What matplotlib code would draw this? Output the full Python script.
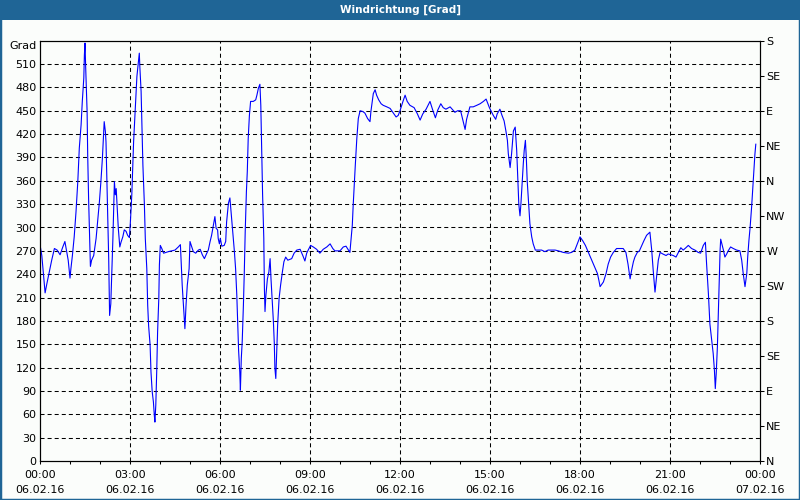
import matplotlib
matplotlib.use('Agg')
import matplotlib.pyplot as plt
from matplotlib.patches import Rectangle

# wind direction readings, 06.02.16 00:00 .. 24:00 (hours since midnight)
hours = [
    0.00, 0.06, 0.10, 0.17, 0.23, 0.31, 0.39, 0.48, 0.57, 0.67, 0.76, 0.83, 0.89, 0.94,
    1.00, 1.03, 1.08, 1.14, 1.20, 1.26, 1.31, 1.37, 1.41, 1.46, 1.48, 1.50, 1.52, 1.57,
    1.59, 1.62, 1.66, 1.68, 1.72, 1.79, 1.87, 1.92, 1.98, 2.03, 2.08, 2.12, 2.14, 2.18,
    2.20, 2.23, 2.26, 2.29, 2.32, 2.36, 2.39, 2.43, 2.48, 2.51, 2.54, 2.58, 2.61, 2.66,
    2.70, 2.76, 2.81, 2.87, 2.92, 2.98, 3.01, 3.06, 3.09, 3.12, 3.17, 3.20, 3.23, 3.28,
    3.31, 3.33, 3.37, 3.40, 3.43, 3.48, 3.51, 3.56, 3.59, 3.62, 3.67, 3.70, 3.74, 3.78,
    3.81, 3.83, 3.86, 3.89, 3.92, 3.96, 3.98, 4.01, 4.06, 4.12,
    4.28, 4.39, 4.50, 4.61, 4.68, 4.70, 4.74, 4.78, 4.83, 4.87, 4.91, 4.97, 5.00, 5.06,
    5.11, 5.19, 5.28, 5.34, 5.41, 5.48, 5.56, 5.61, 5.67, 5.72, 5.78, 5.83, 5.87, 5.92,
    5.94, 5.98, 6.01, 6.06, 6.14, 6.19, 6.22, 6.28, 6.33, 6.37, 6.42, 6.48, 6.52, 6.56,
    6.59, 6.62, 6.66, 6.68, 6.71, 6.74, 6.78, 6.81, 6.84, 6.88, 6.91, 6.94, 6.98, 7.02,
    7.11, 7.19, 7.23, 7.28, 7.33, 7.36, 7.39, 7.42, 7.46, 7.48, 7.50, 7.53, 7.58, 7.63,
    7.67, 7.70, 7.73, 7.78, 7.81, 7.83, 7.86, 7.89, 7.92, 7.97, 8.02, 8.08, 8.13, 8.19,
    8.26,
    8.39, 8.47, 8.56, 8.67, 8.76, 8.83, 8.89, 8.94, 9.02, 9.11, 9.22, 9.33, 9.44, 9.56,
    9.67, 9.76, 9.83, 10.00, 10.11, 10.20, 10.28, 10.33, 10.37, 10.41, 10.44, 10.48,
    10.51, 10.56, 10.61, 10.67, 10.76, 10.83, 10.92, 11.00, 11.03, 11.08, 11.11, 11.17,
    11.22, 11.29, 11.37, 11.44, 11.56, 11.67, 11.78, 11.87, 11.94,
    12.00, 12.09, 12.17, 12.24, 12.33, 12.47, 12.58, 12.67, 12.76, 12.87, 13.00, 13.09,
    13.18, 13.26, 13.36, 13.44, 13.53, 13.67, 13.74, 13.83, 13.92, 14.02, 14.09, 14.17,
    14.22, 14.33, 14.44, 14.56, 14.67, 14.78, 14.87, 14.91, 14.98, 15.06, 15.11, 15.19,
    15.24, 15.33, 15.40, 15.47, 15.53, 15.58, 15.61, 15.67, 15.72, 15.78, 15.84, 15.89,
    15.92, 15.96, 16.00, 16.03, 16.07, 16.11, 16.14, 16.18, 16.21, 16.24, 16.29, 16.33,
    16.39, 16.44, 16.51, 16.61, 16.72, 16.83, 16.94, 17.06, 17.17, 17.28, 17.44, 17.61,
    17.72, 17.83, 17.91, 18.00, 18.09, 18.18, 18.28, 18.39, 18.50, 18.58, 18.63,
    18.67, 18.78, 18.87, 18.94, 19.02, 19.11, 19.22, 19.33, 19.44, 19.53, 19.60, 19.67,
    19.72, 19.78, 19.83, 19.91, 19.98, 20.06, 20.13, 20.22, 20.33, 20.39, 20.44, 20.50,
    20.56, 20.61, 20.67, 20.76, 20.87, 20.94, 21.02, 21.11, 21.20, 21.28, 21.36, 21.44,
    21.53, 21.61, 21.72, 21.83, 21.94, 22.02, 22.11, 22.18, 22.22, 22.28, 22.33, 22.39,
    22.44, 22.48, 22.51, 22.54, 22.58, 22.61, 22.64, 22.67, 22.69, 22.73, 22.78, 22.83,
    22.89, 22.94, 23.02, 23.11, 23.22, 23.33, 23.39, 23.44, 23.50, 23.56, 23.59, 23.63,
    23.67, 23.72, 23.76, 23.80, 23.83, 23.86,
]
grad = [
    278, 264, 247, 216, 228, 243, 258, 273, 271, 265, 275, 282, 269, 258,
    235, 247, 264, 288, 320, 359, 402, 432, 462, 492, 522, 537, 509, 449,
    393, 337, 279, 250, 258, 264, 286, 307, 333, 359, 389, 419, 436, 423,
    410, 359, 312, 260, 187, 202, 239, 286, 359, 342, 350, 320, 299, 275,
    281, 288, 297, 295, 290, 287, 305, 342, 376, 410, 447, 470, 494, 513,
    524, 505, 475, 427, 380, 329, 286, 247, 200, 174, 149, 114, 89, 76,
    59, 50, 72, 114, 166, 209, 252, 277, 273, 267,
    269, 270, 271, 275, 278, 260, 226, 202, 170, 202, 226, 247, 282, 275,
    269, 267, 271, 272, 265, 260, 267, 271, 282, 290, 303, 314, 299, 297,
    286, 279, 286, 276, 277, 282, 307, 331, 338, 320, 299, 269, 247, 213,
    177, 142, 114, 91, 132, 153, 200, 243, 294, 346, 372, 414, 444, 462,
    462, 464, 470, 479, 484, 457, 397, 342, 286, 222, 192, 213, 234, 243,
    260, 234, 213, 179, 151, 119, 106, 140, 174, 209, 226, 243, 256, 262,
    258,
    260, 267, 271, 272, 264, 257, 267, 271, 277, 275, 272, 267, 272, 275,
    279, 273, 270, 270, 275, 276, 271, 268, 286, 303, 329, 359,
    380, 414, 440, 450, 449, 447, 440, 436, 449, 464, 472, 477,
    470, 464, 459, 457, 455, 453, 447, 442, 444,
    450, 461, 470, 462, 457, 454, 446, 438, 446, 452, 462, 451,
    441, 451, 459, 454, 452, 455, 452, 448, 450, 450, 439, 426,
    439, 455, 455, 457, 459, 462, 465, 461, 454, 448, 444, 439,
    446, 452, 444, 437, 424, 412, 395, 377, 395, 424, 429, 399,
    369, 330, 315, 330, 356, 382, 399, 412, 390, 360, 330, 305,
    288, 279, 271, 271, 271, 269, 271, 271, 271, 270, 268, 267,
    268, 271, 279, 288, 283, 277, 268, 258, 248, 241, 232,
    224, 230, 241, 253, 262, 268, 273, 273, 273, 268, 253, 234,
    245, 256, 262, 268, 270, 277, 283, 290, 294, 271, 245, 217,
    239, 258, 268, 266, 264, 266, 265, 264, 262, 268, 274, 271,
    274, 277, 273, 271, 268, 267, 277, 281, 253, 215, 176, 155,
    138, 117, 93, 112, 147, 189, 236, 271, 285, 279, 271, 262,
    266, 270, 275, 273, 271, 270, 258, 241, 224, 241, 262, 283,
    300, 326, 350, 373, 394, 407,
]

left_ticks = [0, 30, 60, 90, 120, 150, 180, 210, 240, 270, 300, 330, 360, 390, 420, 450, 480, 510]
compass_ticks = [0, 45, 90, 135, 180, 225, 270, 315, 360, 405, 450, 495, 540]
compass_labels = ['N', 'NE', 'E', 'SE', 'S', 'SW', 'W', 'NW', 'N', 'NE', 'E', 'SE', 'S']
time_ticks = [0, 3, 6, 9, 12, 15, 18, 21, 24]
time_labels = ['00:00\n06.02.16', '03:00\n06.02.16', '06:00\n06.02.16', '09:00\n06.02.16',
               '12:00\n06.02.16', '15:00\n06.02.16', '18:00\n06.02.16', '21:00\n06.02.16',
               '00:00\n07.02.16']

bg = '#FBFDFB'
bar_blue = '#1F6596'
dash = (0, (2.9, 2.2))

plt.rcParams['font.family'] = 'DejaVu Sans'
plt.rcParams['font.size'] = 8
plt.rcParams['lines.scale_dashes'] = False

fig = plt.figure(figsize=(8, 5), dpi=100, facecolor=bg)

# title bar + frame
fig.patches.append(Rectangle((0, 1 - 20 / 500), 1, 20 / 500, transform=fig.transFigure,
                             facecolor=bar_blue, edgecolor='none', zorder=0))
fig.patches.append(Rectangle((0, 0), 1, 1, transform=fig.transFigure, fill=False,
                             edgecolor=bar_blue, lw=2.5, zorder=5))
fig.text(0.5, 1 - 10 / 500, 'Windrichtung [Grad]', color='white', weight='bold',
         ha='center', va='center', fontsize=7.5)

ax = fig.add_axes([0.05, 0.078, 0.9, 0.8406], facecolor=bg)
ax.plot(hours, grad, color='#0000FF', lw=0.8, zorder=3)
ax.set_xlim(0, 24)
ax.set_ylim(0, 540)

ax.set_yticks(left_ticks)
ax.tick_params(axis='y', length=0, pad=2.5, labelsize=8)
ax.set_xticks(time_ticks)
ax.set_xticklabels(time_labels, linespacing=1.6)
ax.set_xticks(range(25), minor=True)
ax.tick_params(axis='x', which='both', direction='out', length=2.5, width=0.75, pad=4)

for y in left_ticks[1:]:
    ax.axhline(y, color='black', lw=0.75, ls=dash, zorder=1)
for x in time_ticks[1:-1]:
    ax.axvline(x, color='black', lw=0.75, ls=dash, zorder=1)

for s in ax.spines.values():
    s.set_linewidth(0.8)
    s.set_color('black')

ax2 = ax.twinx()
ax2.set_ylim(0, 540)
ax2.set_yticks(compass_ticks)
ax2.set_yticklabels(compass_labels)
ax2.tick_params(axis='y', direction='out', length=3, width=0.75, pad=1.5, labelsize=8)
for s in ax2.spines.values():
    s.set_linewidth(0.8)

fig.text(37 / 800, 1 - 46 / 500, 'Grad', ha='right', va='center', fontsize=8)

fig.savefig('out.png', dpi=100, facecolor=bg)
